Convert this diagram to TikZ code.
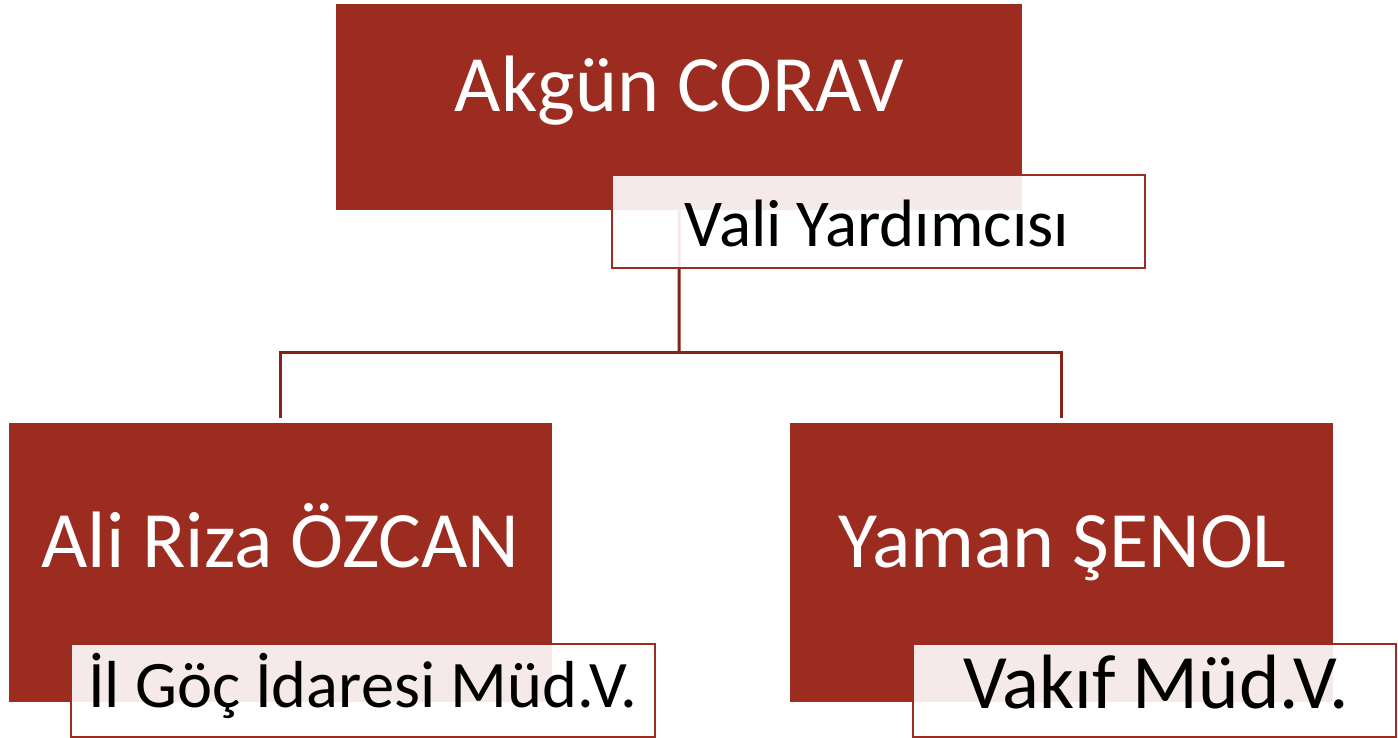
\documentclass[tikz,border=0pt]{standalone}
\usepackage{fontspec}
\setmainfont{Carlito}
\definecolor{boxred}{HTML}{9C2B20}
\definecolor{linered}{HTML}{842419}
\begin{document}
\begin{tikzpicture}[x=1pt,y=-1pt,
  mainbox/.style={fill=boxred,draw=none,text=white,inner sep=0pt,anchor=north west},
  labelbox/.style={fill=white,fill opacity=0.9,text opacity=1,draw=boxred,line width=2pt,inner sep=0pt,anchor=north west},
  txt/.style={inner sep=0pt,anchor=base},
  conn/.style={draw=linered,line width=3pt}]
\useasboundingbox (0,0) rectangle (1398,738);
% main boxes
\node[mainbox,minimum width=686pt,minimum height=206pt] (akgun) at (336,4) {};
\node[mainbox,minimum width=543pt,minimum height=279pt] (ali) at (9,423) {};
\node[mainbox,minimum width=543pt,minimum height=279pt] (yaman) at (790,423) {};
\node[txt,text=white,font=\fontsize{80}{80}\selectfont] (akguntxt) at (679.5,112) {Akgün CORAV};
\node[txt,text=white,font=\fontsize{80}{80}\selectfont] (alitxt) at (280.5,567) {Ali Riza ÖZCAN};
\node[txt,text=white,font=\fontsize{80}{80}\selectfont] (yamantxt) at (1062.5,567) {Yaman ŞENOL};
% connectors
\coordinate (mid) at (679,352);
\draw[conn] (akgun.south) -- (mid);
\draw[conn] ([shift={(0,-5)}]ali.north) |- (mid) -| ([shift={(0,-5)}]yaman.north);
% labels
\node[labelbox,minimum width=533pt,minimum height=93pt] (vali) at (611,174) {};
\node[labelbox,minimum width=584pt,minimum height=93pt] (ilgoc) at (70,643) {};
\node[labelbox,minimum width=483pt,minimum height=93pt] (vakif) at (912,643) {};
\node[txt,font=\fontsize{67}{67}\selectfont] (valitxt) at (877,247) {Vali Yardımcısı};
\node[txt,font=\fontsize{66.5}{66.5}\selectfont] (ilgoctxt) at (362.5,707) {İl Göç İdaresi Müd.V.};
\node[txt,font=\fontsize{77}{77}\selectfont] (vakiftxt) at (1156,708) {Vakıf Müd.V.};
\end{tikzpicture}
\end{document}
